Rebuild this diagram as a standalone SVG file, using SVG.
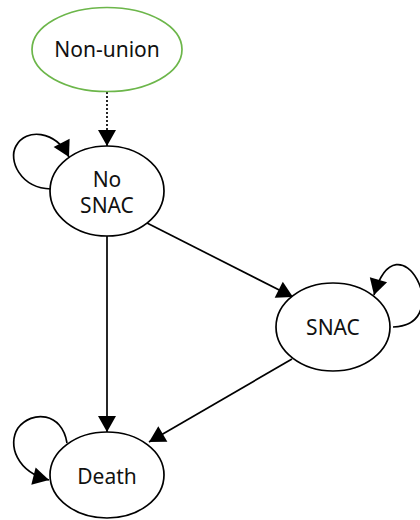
<svg xmlns="http://www.w3.org/2000/svg" width="420" height="520" viewBox="0 0 420 520">
  <defs>
    <marker id="arrow" markerUnits="userSpaceOnUse" markerWidth="17" markerHeight="19" refX="16" refY="9" orient="auto" overflow="visible">
      <path d="M0,0 L16,9 L0,18 Z" fill="#000"/>
    </marker>
    <style>
      .node ellipse { fill: #fff; stroke: #000; stroke-width: 1.7; }
      .node.start ellipse { stroke: #6cb64a; }
      .node text { font-family: "Noto Sans", "Open Sans", sans-serif; font-size: 21px; fill: #111; text-anchor: middle; }
      .edges path { fill: none; stroke: #000; stroke-width: 1.7; marker-end: url(#arrow); }
      .edges .dotted { stroke-dasharray: 2 2; }
    </style>
  </defs>
  <rect width="420" height="520" fill="#fff"/>

  <g id="edges" class="edges">
    <path class="dotted" d="M107,92 L107,146"/>
    <path d="M107,236 L107,432"/>
    <path d="M147,223 L293,297"/>
    <path d="M292,359 L149,442"/>
    <!-- self-loops -->
    <path d="M51,189 C20,188 8,160 16,146 C26,128 55,130 69,157"/>
    <path d="M393,327 C458,325 398,212 374,295"/>
    <path d="M67,443 C62,412 32,410 18,428 C7,445 17,472 49,480"/>
  </g>

  <g id="non-union" class="node start">
    <ellipse cx="107" cy="49.5" rx="75" ry="42"/>
    <text x="107" y="57">Non-union</text>
  </g>
  <g id="no-snac" class="node">
    <ellipse cx="107" cy="191" rx="57" ry="45"/>
    <text x="107" y="187">No</text>
    <text x="107" y="213">SNAC</text>
  </g>
  <g id="snac" class="node">
    <ellipse cx="333" cy="327" rx="57" ry="44"/>
    <text x="333" y="335">SNAC</text>
  </g>
  <g id="death" class="node">
    <ellipse cx="107" cy="475" rx="57" ry="43"/>
    <text x="107" y="484">Death</text>
  </g>
</svg>
